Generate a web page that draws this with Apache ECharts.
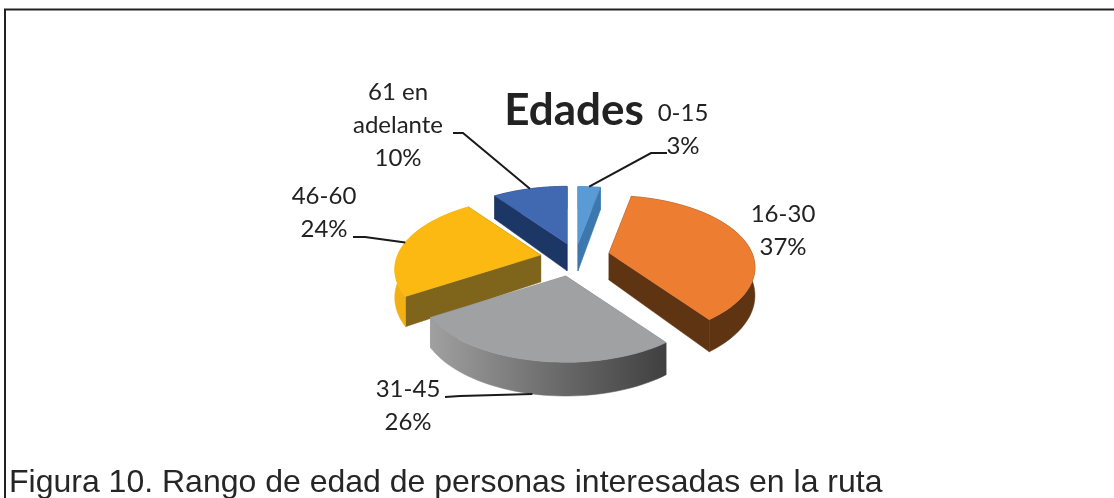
<!DOCTYPE html>
<html><head><meta charset="utf-8">
<style>html,body{margin:0;padding:0;background:#fff}#c{width:1114px;height:498px}</style>
<script src="https://cdn.jsdelivr.net/npm/echarts@6/dist/echarts.min.js"></script>
</head><body><div id="c"></div>
<script>
const categories = ['0-15', '16-30', '31-45', '46-60', '61 en adelante'];
const values = [3, 37, 26, 24, 10];
const labelLines = [['0-15', '3%'], ['16-30', '37%'], ['31-45', '26%'], ['46-60', '24%'], ['61 en', 'adelante', '10%']];
const explodeX = [0.37, 0.258, 0.27, 0.23, 0.135];
const explodeY = [0.16, 0.13, 0.31, 0, 0.17];
const paintRank = [2, 3, 4, 0, 1];
const topColors = ['#5b9bd5', '#ed7d31', '#9fa1a3', '#fbb911', '#4169b2'];
const wallColors = ['#3c78ad', '#5f3413', '#808080', '#7f651c', '#1c3765'];
const rimColors = ['#3c78ad', '#5f3413', null, '#f2b013', '#1c3765'];
const labelCentres = [[683, 113], [783, 214], [408, 389], [324, 196], [398, 92]];
const leaderStarts = [[[667, 153], [651, 153]], null, [[445, 397], [460, 396]], [[353, 237], [365, 237]], [[453, 133], [463, 133]]];

const CX = 573, CY = 255, A = 143, B = 69, K = 0.2, DEPTH = 27, LINE_H = 33;
const total = values.reduce((s, v) => s + v, 0);
const project = (x, y) => { const s = 1 / (1 - K * y); return [A * x * s, B * y * s]; };

function renderItem(params, api) {
  const i = params.dataIndex;
  const before = values.slice(0, i).reduce((s, v) => s + v, 0);
  const a0 = before / total * 2 * Math.PI;
  const a1 = (before + api.value(0)) / total * 2 * Math.PI;
  const mid = (a0 + a1) / 2;
  const ax = CX + A * Math.sin(mid) * explodeX[i];
  const ay = CY - B * Math.cos(mid) * explodeY[i];
  const pt = (t, r = 1) => {
    const p = project(Math.sin(t) * r, -Math.cos(t) * r);
    return [ax + p[0], ay + p[1]];
  };
  const low = (t, r = 1) => {
    const p = pt(t, r);
    return [p[0], p[1] + DEPTH / (1 - K * (-Math.cos(t) * r))];
  };
  const steps = 48;
  const arc = [], arcLow = [];
  for (let s = 0; s <= steps; s++) {
    const t = a0 + (a1 - a0) * s / steps;
    arc.push(pt(t)); arcLow.push(low(t));
  }
  const apex = [ax, ay], apexLow = [ax, ay + DEPTH];
  const z = paintRank[i] * 10;
  const poly = (points, fill, d) => ({
    type: 'polygon', z2: z + d, shape: { points }, silent: true,
    style: { fill, stroke: fill, lineWidth: 0.5 }
  });
  const rimFill = rimColors[i] || {
    type: 'linear', x: 0, y: 0, x2: 1, y2: 0,
    colorStops: [{ offset: 0, color: '#a0a0a0' }, { offset: 0.5, color: '#6e6e6e' }, { offset: 1, color: '#404040' }]
  };
  const children = [
    poly([apex, arc[0], arcLow[0], apexLow], wallColors[i], 0),
    poly([apex, arc[steps], arcLow[steps], apexLow], wallColors[i], 1),
    poly(arc.concat(arcLow.slice().reverse()), rimFill, 2),
    poly([apex].concat(arc), topColors[i], 3)
  ];
  const c = labelCentres[i];
  labelLines[i].forEach((text, n) => children.push({
    type: 'text', z2: 100,
    style: { text, x: c[0], y: c[1] + n * LINE_H, align: 'center', verticalAlign: 'middle',
      fill: '#222222', font: '24px Lato' }
  }));
  if (leaderStarts[i]) {
    const onNearSide = Math.cos(mid) < -0.5;
    const end = onNearSide ? low(mid) : pt(mid);
    children.push({
      type: 'polyline', z2: 99, silent: true,
      shape: { points: leaderStarts[i].concat([end]) },
      style: { fill: 'none', stroke: '#1a1a1a', lineWidth: 2 }
    });
  }
  return { type: 'group', children };
}

const chart = echarts.init(document.getElementById('c'), null, { renderer: 'canvas' });
chart.setOption({
  animation: false,
  backgroundColor: '#ffffff',
  title: {
    text: 'Edades', left: 569, top: 106, textAlign: 'center', textVerticalAlign: 'middle',
    textStyle: { fontFamily: 'Lato', fontWeight: 'bold', fontSize: 44, color: '#222222' }
  },
  graphic: [
    { type: 'polyline', shape: { points: [[5, 498], [5, 9.5], [1114, 9.5]] },
      style: { fill: 'none', stroke: '#222222', lineWidth: 2 } },
    { type: 'text', style: { text: 'Figura 10. Rango de edad de personas interesadas en la ruta', x: 9, y: 483,
        align: 'left', verticalAlign: 'middle', fill: '#262626', font: '32px "Liberation Sans"' } }
  ],
  series: [{
    type: 'custom', coordinateSystem: 'none', renderItem,
    data: values.map((v, i) => ({ name: categories[i], value: [v] }))
  }]
});
</script></body></html>
